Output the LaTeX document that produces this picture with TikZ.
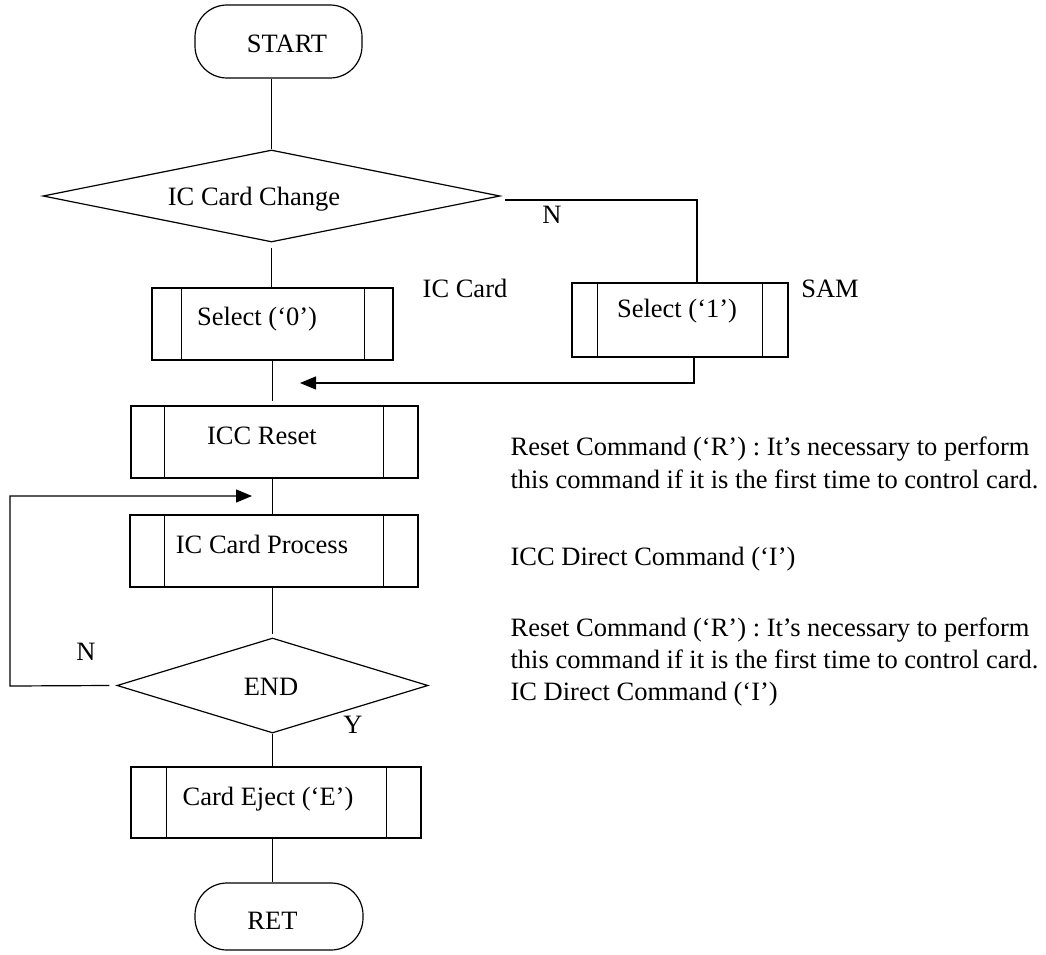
\documentclass[tikz,border=0pt]{standalone}
\usepackage{fontspec}
\setmainfont{Liberation Serif}
\usetikzlibrary{shapes.geometric,arrows.meta}
\begin{document}
\begin{tikzpicture}[x=1pt,y=-1pt,line width=1.2pt,
  box/.style={draw,rectangle,inner sep=0pt},
  term/.style={draw,rectangle,rounded corners=32pt,inner sep=0pt},
  dia/.style={draw,diamond,inner sep=0pt},
  txt/.style={font=\fontsize{26.5pt}{32pt}\selectfont,inner sep=0pt,anchor=base},
  ltxt/.style={txt,anchor=base west},
  arr/.style={-{Triangle[length=16pt,width=13pt]}}]
\useasboundingbox (0,0) rectangle (1046,955);

% shapes
\node[term,minimum width=167pt,minimum height=73pt] (start) at (278.5,41.5) {};
\node[dia,minimum width=457pt,minimum height=92pt] (d1) at (271.5,196) {};
\node[box,minimum width=241pt,minimum height=72pt] (s0) at (272.5,324) {};
\node[box,minimum width=216pt,minimum height=74pt] (s1) at (680,320) {};
\node[box,minimum width=287pt,minimum height=72pt] (reset) at (274.5,442) {};
\node[box,minimum width=288pt,minimum height=72pt] (proc) at (274,551) {};
\node[dia,minimum width=311pt,minimum height=95pt] (d2) at (272.5,685.5) {};
\node[box,minimum width=290pt,minimum height=71pt] (eject) at (276,802.5) {};
\node[term,minimum width=168pt,minimum height=67pt] (ret) at (279,916.5) {};

% inner vertical lines of the subprocess boxes
\foreach \n/\a/\b in {s0/30/29, s1/26/26, reset/34/35, proc/35/35, eject/36/35}{
  \draw ([xshift=\a pt]\n.north west) -- ([xshift=\a pt]\n.south west);
  \draw ([xshift=-\b pt]\n.north east) -- ([xshift=-\b pt]\n.south east);
}

% texts inside shapes
\node[txt] (startT) at (287,53) {START};
\node[txt] (d1T) at (254,205) {IC Card Change};
\node[txt] (s0T) at (257,325) {Select (‘0’)};
\node[txt] (s1T) at (677,317) {Select (‘1’)};
\node[txt] (resetT) at (262,444) {ICC Reset};
\node[txt] (procT) at (262,553) {IC Card Process};
\node[txt] (d2T) at (271,695) {END};
\node[txt] (ejectT) at (268,805) {Card Eject (‘E’)};
\node[txt] (retT) at (272.5,929) {RET};

% side labels
\node[txt] (nTop) at (552,223) {N};
\node[txt] (icLbl) at (465,297) {IC Card};
\node[txt] (samLbl) at (830,297) {SAM};
\node[txt] (nLeft) at (86,660) {N};
\node[txt] (yLbl) at (353,733) {Y};

% notes
\node[ltxt] (r1a) at (510,455) {Reset Command (‘R’) : It’s necessary to perform};
\node[ltxt] (r1b) at (510,488) {this command if it is the first time to control card.};
\node[ltxt] (r2) at (510,565) {ICC Direct Command (‘I’)};
\node[ltxt] (r3a) at (510,636) {Reset Command (‘R’) : It’s necessary to perform};
\node[ltxt] (r3b) at (510,668) {this command if it is the first time to control card.};
\node[ltxt] (r3c) at (510,700) {IC Direct Command (‘I’)};

% free ends
\coordinate (c1) at (697,200);
\coordinate (c2) at (694,383);
\coordinate (m1) at (300,383);
\coordinate (L1) at (10,686);
\coordinate (L2) at (10,496);
\coordinate (L3) at (252,496);

% connectors
\draw (d1.north |- start.south) -- (d1.north);
\draw ([yshift=-5pt]d1.south) -- (d1.south |- s0.north);
\draw ([xshift=4pt,yshift=-4pt]d1.east) -- (c1) -- (c1 |- s1.north);
\draw[arr] (c2 |- s1.south) -- (c2) -- (m1);
\draw (s0.south) -- ([yshift=4pt]s0.south |- reset.north);
\draw (s0.south |- reset.south) -- (s0.south |- proc.north);
\draw (d2.north |- proc.south) -- ([yshift=3pt]d2.north);
\draw[arr] ([xshift=-7pt]d2.west) -- (L1) -- (L2) -- (L3);
\draw (d2.south) -- (d2.south |- eject.north);
\draw (d2.south |- eject.south) -- (d2.south |- ret.north);
\end{tikzpicture}
\end{document}
